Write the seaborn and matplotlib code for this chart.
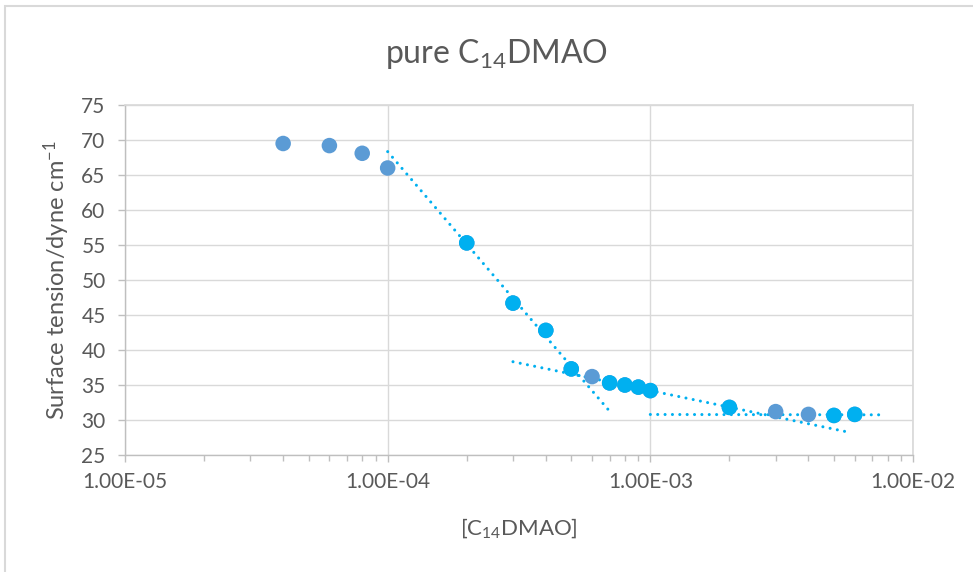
import numpy as np
import pandas as pd
import matplotlib
matplotlib.use("Agg")
import matplotlib.pyplot as plt
import seaborn as sns
from matplotlib.ticker import LogLocator, FixedLocator, FuncFormatter, NullFormatter

# ---- data ----
conc = [4e-5, 6e-5, 8e-5, 1e-4, 2e-4, 3e-4, 4e-4, 5e-4, 6e-4, 7e-4,
        8e-4, 9e-4, 1e-3, 2e-3, 3e-3, 4e-3, 5e-3, 6e-3]
tension = [69.5, 69.2, 68.1, 66.0, 55.3, 46.7, 42.8, 37.3, 36.2, 35.3,
           35.0, 34.7, 34.2, 31.8, 31.2, 30.8, 30.65, 30.8]
# points highlighted (second, brighter series)
highlight = [False, False, False, False, True, True, True, True, False, True,
             True, True, True, True, False, False, True, True]

# trendline fits: (fit range, drawn range)
fit_ranges = [(2e-4, 5e-4), (7e-4, 2e-3), (4e-3, 6e-3)]
draw_ranges = [(1e-4, 7e-4), (3e-4, 5.8e-3), (1e-3, 7.5e-3)]

yticks = [25, 30, 35, 40, 45, 50, 55, 60, 65, 70, 75]
xticks = [1e-5, 1e-4, 1e-3, 1e-2]

BLUE = "#5B9BD5"
CYAN = "#00B0F0"
GRAY_TXT = "#595959"
GRID = "#D9D9D9"
AXIS = "#BFBFBF"

sns.set_theme(style="white")
plt.rcParams["font.family"] = ["Lato", "DejaVu Sans"]
plt.rcParams["mathtext.fontset"] = "custom"
plt.rcParams["mathtext.rm"] = "Lato"
plt.rcParams["mathtext.it"] = "Lato:italic"
plt.rcParams["mathtext.bf"] = "Lato:bold"
plt.rcParams["axes.unicode_minus"] = False

df = pd.DataFrame({"conc": conc, "tension": tension, "hl": highlight})

fig = plt.figure(figsize=(9.73, 5.72), dpi=100)
ax = fig.add_axes([125 / 973, 1 - 455 / 572, (913 - 125) / 973, (455 - 105) / 572])

# chart border
fig.add_artist(plt.Rectangle((4.5 / 973, -0.1), 1.2, (1 - 5.5 / 572) + 0.1,
                             transform=fig.transFigure, fill=False,
                             edgecolor=GRID, linewidth=1.5))

ax.set_xscale("log")
ax.set_xlim(1e-5, 1e-2)
ax.set_ylim(25, 75)

# trendlines
for (f0, f1), (d0, d1) in zip(fit_ranges, draw_ranges):
    sub = df[(df.conc >= f0 * 0.999) & (df.conc <= f1 * 1.001)]
    k, b = np.polyfit(np.log10(sub.conc), sub.tension, 1)
    xs = np.array([d0, d1])
    ys = k * np.log10(xs) + b
    ax.plot(xs, ys, color=CYAN, linewidth=2.2, linestyle=(0, (0.01, 2.4)),
            dash_capstyle="round", zorder=2)

sns.scatterplot(data=df, x="conc", y="tension", ax=ax, color=BLUE, s=125,
                edgecolor="none", zorder=3, legend=False)
sns.scatterplot(data=df[df.hl], x="conc", y="tension", ax=ax, color=CYAN, s=125,
                edgecolor="none", zorder=4, legend=False)

ax.set_yticks(yticks)
ax.xaxis.set_major_locator(FixedLocator(xticks))
ax.xaxis.set_minor_locator(LogLocator(base=10, subs=np.arange(2, 10)))
ax.xaxis.set_minor_formatter(NullFormatter())
ax.xaxis.set_major_formatter(FuncFormatter(lambda v, p: f"{v:.2E}"))

ax.grid(True, which="major", color=GRID, linewidth=1.0)
ax.set_axisbelow(True)
for side in ["top", "right"]:
    ax.spines[side].set_visible(True)
    ax.spines[side].set_color(GRID)
for side in ["left", "bottom"]:
    ax.spines[side].set_color(AXIS)
    ax.spines[side].set_linewidth(1.0)

ax.tick_params(axis="both", which="major", direction="out", length=5, width=1,
               color=AXIS, labelcolor=GRAY_TXT, labelsize=15, left=True, bottom=True)
ax.tick_params(axis="x", which="minor", direction="out", length=4, width=1,
               color=AXIS, bottom=True)
ax.tick_params(axis="x", which="major", pad=7)
ax.tick_params(axis="y", which="major", pad=9)

ax.set_xlabel("[C$_{14}$DMAO]", color=GRAY_TXT, fontsize=16, va="center")
ax.xaxis.set_label_coords(0.5, (455 - 528) / 350)
ax.set_ylabel("Surface tension/dyne cm$^{-1}$", color=GRAY_TXT, fontsize=17, va="center")
ax.yaxis.set_label_coords((56.5 - 125) / 788, 0.5)
fig.text(496 / 973, 1 - 63 / 572, "pure C$_{14}$DMAO", ha="center", va="baseline",
         color=GRAY_TXT, fontsize=23)

fig.savefig("out.png", dpi=100, facecolor="white")
